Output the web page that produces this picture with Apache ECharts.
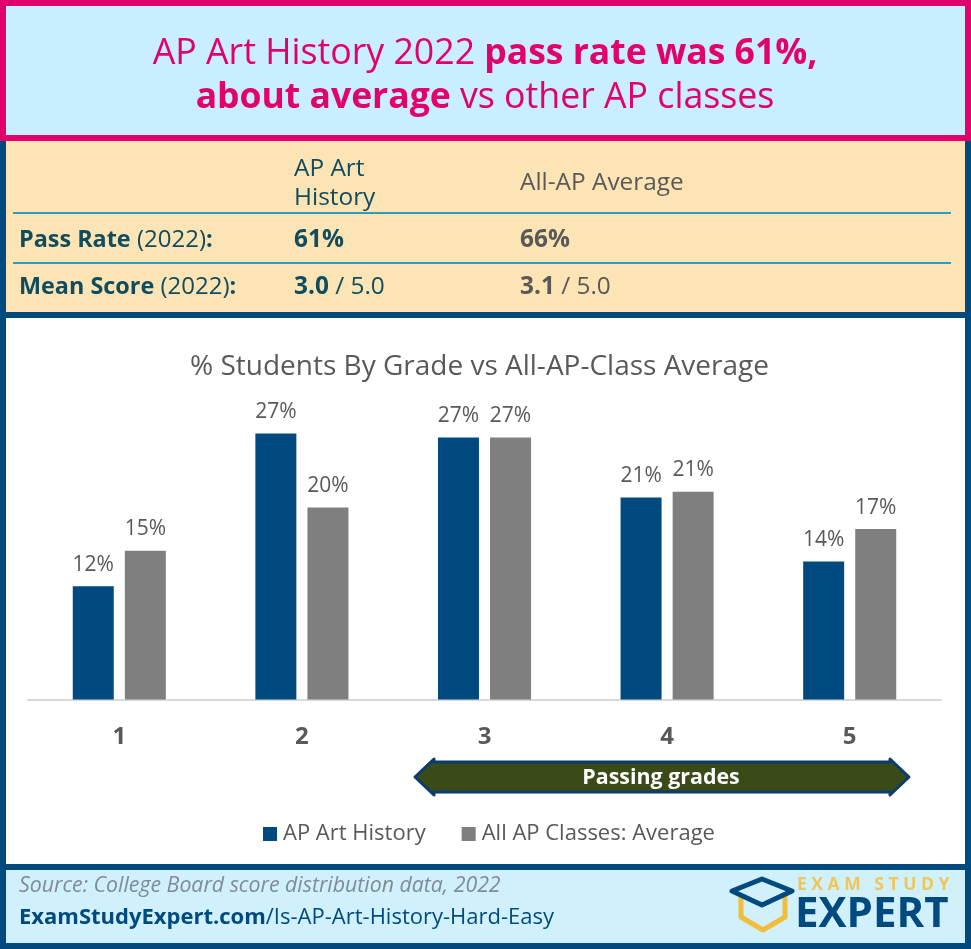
<!DOCTYPE html>
<html>
<head>
<meta charset="utf-8">
<style>
html, body { margin: 0; padding: 0; background: #fff; }
#chart { width: 971px; height: 949px; }
</style>
</head>
<body>
<div id="chart"></div>
<script src="https://cdn.jsdelivr.net/npm/echarts@6/dist/echarts.min.js"></script>
<script>
const grades = ['1', '2', '3', '4', '5']
const artHistory = [11.5, 27, 26.6, 20.5, 14]
const allClasses = [15.1, 19.5, 26.6, 21.1, 17.3]

const seriesNames = ['AP Art History', 'All AP Classes: Average']
const chartTitle = '% Students By Grade vs All-AP-Class Average'
const passingLabel = 'Passing grades'

const tableHead = ['AP Art\nHistory', 'All-AP Average']
const passRates = ['61%', '66%']
const meanScores = ['3.0', '3.1']

const FONT = '"Open Sans", "Noto Sans", sans-serif'
const NAVY = '#004a80'
const PINK = '#e2006c'
const TEAL = '#0f4c5f'
const GREY = '#595959'

const rect = (x, y, width, height, fill, extra) => ({
  type: 'rect', z: 0, shape: { x, y, width, height }, style: { fill, ...extra }
})
const text = (x, y, str, font, fill, extra) => ({
  type: 'text', z: 5, x, y, style: { text: str, font, fill, textVerticalAlign: 'middle', ...extra }
})
const richText = (x, y, str, rich, extra) => ({
  type: 'text', z: 5, x, y, style: { text: str, rich, textVerticalAlign: 'middle', ...extra }
})

const titleRich = {
  r: { font: `35.7px ${FONT}`, fill: PINK },
  b: { font: `bold 35.5px ${FONT}`, fill: PINK }
}
const rowRich = {
  h: { font: `bold 23.4px ${FONT}`, fill: TEAL },
  n: { font: `24px ${FONT}`, fill: TEAL },
  v: { font: `bold 24.4px ${FONT}`, fill: TEAL },
  u: { font: `24.4px ${FONT}`, fill: TEAL },
  g: { font: `bold 24.4px ${FONT}`, fill: GREY },
  k: { font: `24.4px ${FONT}`, fill: GREY }
}

const panels = [
  rect(0, 0, 971, 949, NAVY),
  rect(6, 141, 959, 171, '#fde4b4'),
  rect(6, 318, 959, 546, '#ffffff'),
  rect(6, 870, 959, 73, '#d0f0fc'),
  rect(3, 3, 965, 135, '#c9eeff', { stroke: PINK, lineWidth: 6 }),
  rect(13, 212, 938, 2, '#2e9cc0'),
  rect(13, 262, 938, 2, '#2e9cc0')
]

const headerTexts = [
  richText(485, 54, `{r|AP Art History 2022 }{b|pass rate was 61%,}`, titleRich, { align: 'center' }),
  richText(485, 98, `{b|about average}{r| vs other AP classes}`, titleRich, { align: 'center' })
]

const tableTexts = [
  text(294, 169, tableHead[0].split('\n')[0], `24.4px ${FONT}`, TEAL),
  text(294, 198, tableHead[0].split('\n')[1], `24.4px ${FONT}`, TEAL),
  text(520, 183, tableHead[1], `24.4px ${FONT}`, GREY),
  richText(19, 240, '{h|Pass Rate}{n| (2022)}{h|:}', rowRich),
  richText(19, 287, '{h|Mean Score}{n| (2022)}{h|:}', rowRich),
  richText(294, 240, `{v|${passRates[0]}}`, rowRich),
  richText(520, 240, `{g|${passRates[1]}}`, rowRich),
  richText(294, 287, `{v|${meanScores[0]}}{u| / 5.0}`, rowRich),
  richText(520, 287, `{g|${meanScores[1]}}{k| / 5.0}`, rowRich)
]

// 及格区间箭头
const passingArrow = [
  {
    type: 'polygon', z: 4,
    shape: { points: [[415, 777], [434, 759], [434, 762], [890, 762], [890, 759], [909, 777], [890, 795], [890, 792], [434, 792], [434, 795]] },
    style: { fill: '#3a4b17', stroke: '#0a3c6e', lineWidth: 3, lineJoin: 'round' }
  },
  text(661, 778, passingLabel, `bold 21.4px ${FONT}`, '#ffffff', { align: 'center' })
]

const footerTexts = [
  text(19, 886, 'Source: College Board score distribution data, 2022', `italic 21.3px ${FONT}`, '#7f8c96'),
  richText(19, 918, '{b|ExamStudyExpert.com}{r|/Is-AP-Art-History-Hard-Easy}', {
    b: { font: `bold 22px ${FONT}`, fill: NAVY },
    r: { font: `22px ${FONT}`, fill: NAVY }
  })
]

const logo = [
  {
    type: 'polyline', z: 5,
    shape: { points: [[741, 895], [741, 917], [763, 930], [785, 917], [785, 895]] },
    style: { stroke: '#f2bc3d', lineWidth: 5, lineJoin: 'round' }
  },
  {
    type: 'polygon', z: 6,
    shape: { points: [[732, 891], [762, 879], [792, 891], [762, 905]] },
    style: { fill: '#d0f0fc', stroke: NAVY, lineWidth: 5, lineJoin: 'round' }
  },
  text(797, 885, 'E X A M   S T U D Y', `bold 17.5px ${FONT}`, '#eec65a'),
  text(795, 915, 'EXPERT', `bold 42px ${FONT}`, NAVY)
]

const barLabel = {
  show: true,
  position: 'top',
  distance: 11,
  color: GREY,
  fontFamily: FONT,
  fontSize: 21,
  formatter: p => `${Math.round(p.value)}%`
}

const chart = echarts.init(document.getElementById('chart'), null, { renderer: 'canvas' })
chart.setOption({
  animation: false,
  backgroundColor: 'transparent',
  textStyle: { fontFamily: FONT },
  title: {
    text: chartTitle,
    left: 185,
    top: 348,
    textStyle: { color: GREY, fontFamily: FONT, fontSize: 28, fontWeight: 'normal' }
  },
  legend: {
    data: seriesNames,
    top: 818,
    left: 258,
    icon: 'rect',
    itemWidth: 14,
    itemHeight: 14,
    itemGap: 36,
    textStyle: { color: GREY, fontFamily: FONT, fontSize: 22, padding: [0, 0, 0, 1] }
  },
  grid: { left: 28, right: 30, top: 404, height: 295.5 },
  xAxis: {
    type: 'category',
    data: grades,
    axisTick: { show: false },
    axisLine: { lineStyle: { color: '#d9d9d9', width: 2 } },
    axisLabel: { color: GREY, fontFamily: FONT, fontSize: 24, fontWeight: 'bold', margin: 26 }
  },
  yAxis: { type: 'value', min: 0, max: 30, show: false },
  series: [
    { name: seriesNames[0], type: 'bar', data: artHistory, barWidth: 41, barGap: '27%', itemStyle: { color: NAVY }, label: barLabel, z: 3 },
    { name: seriesNames[1], type: 'bar', data: allClasses, barWidth: 41, itemStyle: { color: '#7f7f7f' }, label: barLabel, z: 3 }
  ],
  graphic: { elements: [...panels, ...headerTexts, ...tableTexts, ...passingArrow, ...footerTexts, ...logo] }
})
</script>
</body>
</html>
